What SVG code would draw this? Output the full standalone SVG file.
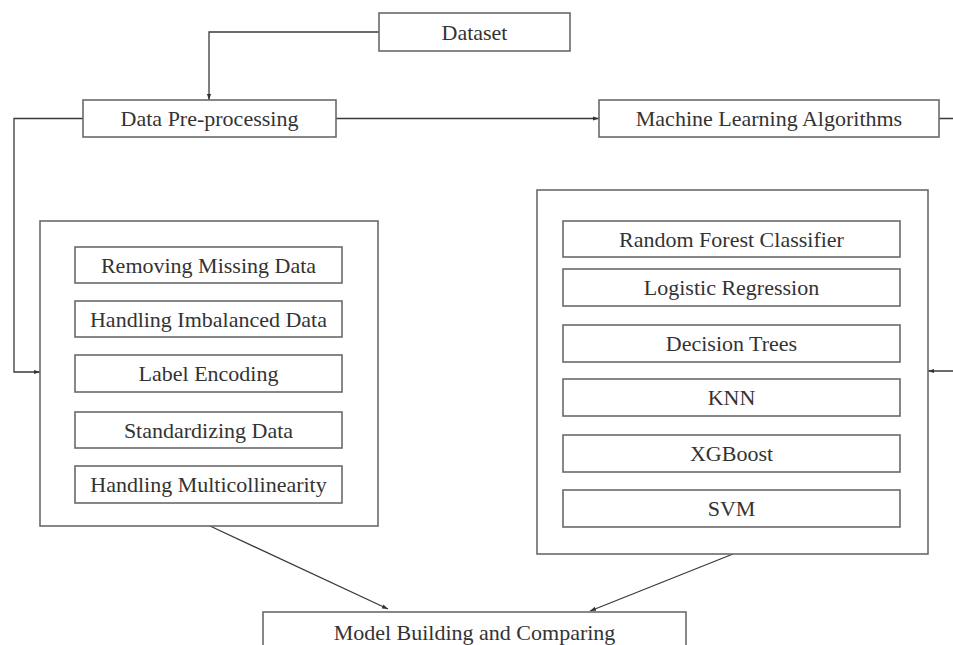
<svg xmlns="http://www.w3.org/2000/svg" width="953" height="645" viewBox="0 0 953 645">
<style>
.box{fill:#fff;stroke:#6a6a6a;stroke-width:1.6}
.t{font-family:'Liberation Serif',Tinos,'Times New Roman','DejaVu Serif',serif;font-size:22px;fill:#333;text-anchor:middle}
.c{fill:none;stroke:#3a3a3a;stroke-width:1.3}
</style>
<defs>
<marker id="ah" viewBox="0 0 10 10" refX="10" refY="5" markerWidth="6" markerHeight="6" markerUnits="userSpaceOnUse" orient="auto">
<path d="M0,1.5 L10,5 L0,8.5 z" fill="#333"/>
</marker>
</defs>
<rect width="953" height="645" fill="#fff"/>
<g id="connectors">
<path class="c" d="M379,32 H209 V100" marker-end="url(#ah)"/>
<path class="c" d="M336,118.5 H599" marker-end="url(#ah)"/>
<path class="c" d="M83,118.5 H14 V372 H40" marker-end="url(#ah)"/>
<path class="c" d="M939,118.5 H960 V371 H928" marker-end="url(#ah)"/>
<path class="c" d="M210,526 L388,609" marker-end="url(#ah)"/>
<path class="c" d="M733,554 L590,611" marker-end="url(#ah)"/>
</g>
<g id="dataset"><rect class="box" x="379" y="13" width="191" height="38"/><text class="t" x="474.5" y="39.5">Dataset</text></g>
<g id="preprocessing"><rect class="box" x="83" y="100" width="253" height="37"/><text class="t" x="209.5" y="126">Data Pre-processing</text></g>
<g id="ml-algorithms"><rect class="box" x="599" y="100" width="340" height="37"/><text class="t" x="769" y="126">Machine Learning Algorithms</text></g>
<g id="preprocessing-steps">
<rect class="box" x="40" y="221" width="338" height="305"/>
<g id="removing-missing"><rect class="box" x="75" y="247" width="267" height="36"/><text class="t" x="208.5" y="272.5">Removing Missing Data</text></g>
<g id="imbalanced"><rect class="box" x="75" y="301" width="267" height="36"/><text class="t" x="208.5" y="326.5">Handling Imbalanced Data</text></g>
<g id="label-encoding"><rect class="box" x="75" y="355" width="267" height="37"/><text class="t" x="208.5" y="381">Label Encoding</text></g>
<g id="standardizing"><rect class="box" x="75" y="412" width="267" height="36"/><text class="t" x="208.5" y="437.5">Standardizing Data</text></g>
<g id="multicollinearity"><rect class="box" x="75" y="466" width="267" height="37"/><text class="t" x="208.5" y="492">Handling Multicollinearity</text></g>
</g>
<g id="algorithms">
<rect class="box" x="537" y="190" width="391" height="364"/>
<g id="rfc"><rect class="box" x="563" y="221" width="337" height="36"/><text class="t" x="731.5" y="246.5">Random Forest Classifier</text></g>
<g id="lr"><rect class="box" x="563" y="269" width="337" height="37"/><text class="t" x="731.5" y="295">Logistic Regression</text></g>
<g id="dt"><rect class="box" x="563" y="325" width="337" height="37"/><text class="t" x="731.5" y="351">Decision Trees</text></g>
<g id="knn"><rect class="box" x="563" y="379" width="337" height="37"/><text class="t" x="731.5" y="405">KNN</text></g>
<g id="xgb"><rect class="box" x="563" y="435" width="337" height="37"/><text class="t" x="731.5" y="461">XGBoost</text></g>
<g id="svm"><rect class="box" x="563" y="490" width="337" height="37"/><text class="t" x="731.5" y="516">SVM</text></g>
</g>
<g id="model-building"><rect class="box" x="263" y="612" width="423" height="50"/><text class="t" x="474.5" y="640">Model Building and Comparing</text></g>
</svg>
